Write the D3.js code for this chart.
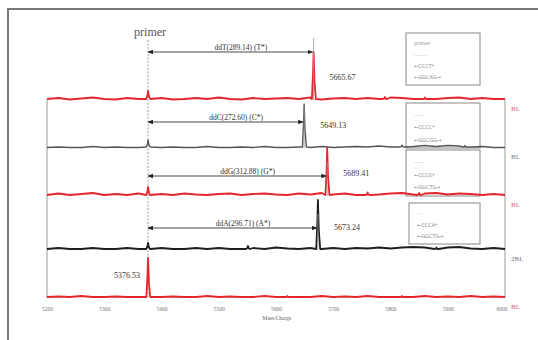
<!DOCTYPE html>
<html>
<head>
<meta charset="utf-8">
<script src="https://cdn.jsdelivr.net/npm/d3@7"></script>
<style>
  html, body { margin: 0; padding: 0; background: #fff; }
  svg { display: block; }
</style>
</head>
<body>
<svg id="chart" width="538" height="340"></svg>
<script>
// Mass axis ticks (Da)
const massTicks = [5200, 5300, 5400, 5500, 5600, 5700, 5800, 5900, 6000];

// Primer and single-base extension products
const primerMass = 5376.53;
const productMass = [5665.67, 5649.13, 5689.41, 5673.24];
const productHeight = [96, 88, 96, 100];
const primerHeight = [18, 16, 18, 14, 80];
const peakLabels = ["5665.67", "5649.13", "5689.41", "5673.24", "5376.53"];
const shiftLabels = ["ddT(289.14)  (T*)", "ddC(272.60) (C*)", "ddG(312.88)   (G*)", "ddA(296.71) (A*)"];
const sideLabels = ["BL", "BL", "BL", "2BL", "BL"];

// Minor side peaks [mass, intensity] per spectrum
const minorPeaks = [
  [[5790, 6], [5860, 5]],
  [[5820, 6], [5930, 5]],
  [[5760, 7], [5850, 6]],
  [[5551, 8], [5880, 5]],
  [[5620, 4], [5820, 4]]
];

// Baseline noise sampled every 20 Da from 5200 to 6000
const noise = [
  [2,4,1,3,5,2,1,4,2,3,4,1,2,4,2,5,2,1,4,2,3,4,2,5,1,3,4,2,4,2,5,4,2,4,2,4,5,2,4,2,2],
  [1,2,1,1,3,1,2,1,1,3,1,2,1,1,3,1,1,2,1,3,1,1,2,1,3,1,2,3,2,4,2,5,3,5,3,5,4,2,3,1,1],
  [2,5,2,4,6,2,4,2,5,2,4,2,5,3,2,4,5,2,4,5,3,2,5,3,6,3,5,2,6,3,5,6,3,5,6,3,5,4,2,4,2],
  [2,4,2,2,4,2,2,4,2,2,4,2,2,4,2,4,2,2,4,2,5,3,2,4,2,4,2,4,3,5,3,5,6,5,3,5,6,3,2,4,2],
  [2,3,2,4,2,2,3,2,2,4,2,3,2,2,4,2,3,2,2,4,2,3,2,2,4,2,3,2,4,2,2,3,2,4,2,3,2,4,2,3,2]
];
const noiseStep = 20;

// Legend box text lines per spectrum
const legendText = [
  ["primer", "\u00b7\u00b7\u00b7\u00b7\u00b7\u00b7\u00b7\u00b7", "\u2190CCCT*", "\u2190GGCAG\u2192"],
  ["\u00b7\u00b7\u00b7\u00b7\u00b7\u00b7\u00b7", "\u2190CCCC*", "\u2190GGCGG\u2192"],
  ["\u00b7\u00b7\u00b7\u00b7\u00b7\u00b7\u00b7", "\u2190CCCG*", "\u2190GGCTG\u2192"],
  ["\u00b7\u00b7\u00b7", "\u2190CCCA*", "\u2190GGCTG\u2192"]
];

const colors = ["#e3262b", "#555555", "#e3262b", "#1e1e1e", "#e3262b"];

// ---- layout ----
const plotLeft = 47, plotRight = 505;
const baselines = [100, 148, 196, 250, 298];
const arrowY = [52, 122, 176, 228];
const legendBoxes = [[406, 33, 74, 52], [406, 103, 74, 45], [406, 150, 74, 46], [409, 203, 71, 41]];
const serif = "'Liberation Serif', 'DejaVu Serif', serif";
const smallFont = "'DejaVu Sans', sans-serif";

const svg = d3.select("#chart");

// outer frame
svg.append("rect")
  .attr("x", 8).attr("y", 9).attr("width", 540).attr("height", 340)
  .attr("fill", "none").attr("stroke", "#777").attr("stroke-width", 2);

const x = d3.scaleLinear().domain([massTicks[0], massTicks[massTicks.length - 1]]).range([plotLeft, plotRight]);
const yFor = i => d3.scaleLinear().domain([0, 100]).range([baselines[i], baselines[i] - 50]);

// plot side borders
[plotLeft, plotRight].forEach(px => {
  svg.append("line")
    .attr("x1", px).attr("x2", px)
    .attr("y1", baselines[0]).attr("y2", baselines[4])
    .attr("stroke", "#999").attr("stroke-width", 1);
});

// dotted guide at the primer mass
svg.append("line")
  .attr("x1", x(primerMass)).attr("x2", x(primerMass))
  .attr("y1", 40).attr("y2", baselines[4])
  .attr("stroke", "#888").attr("stroke-width", 0.8).attr("stroke-dasharray", "2,1.5");

// legend boxes
legendBoxes.forEach((b, i) => {
  svg.append("rect")
    .attr("x", b[0]).attr("y", b[1]).attr("width", b[2]).attr("height", b[3])
    .attr("fill", "#fff").attr("stroke", "#888").attr("stroke-width", 1);
  const lines = legendText[i];
  const step = b[3] / (lines.length + 0.6);
  lines.forEach((t, j) => {
    svg.append("text")
      .attr("x", b[0] + 8).attr("y", b[1] + step * (j + 1) + 1)
      .attr("font-family", smallFont).attr("font-size", 5)
      .attr("fill", "#888").text(t);
  });
});

// build spectrum point lists from baseline noise + peaks
function spectrumPoints(i) {
  const pts = noise[i].map((v, k) => [massTicks[0] + k * noiseStep, v]);
  const peaks = [[primerMass, primerHeight[i]]];
  if (i < productMass.length) peaks.push([productMass[i], productHeight[i]]);
  minorPeaks[i].forEach(p => peaks.push(p));
  peaks.forEach(([m, h]) => {
    pts.push([m - 3, 2], [m - 1, h * 0.55], [m, h], [m + 1.5, h * 0.4], [m + 4, 2]);
  });
  pts.sort((a, b) => a[0] - b[0]);
  return pts;
}

// spectra
baselines.forEach((_, i) => {
  const y = yFor(i);
  const line = d3.line().x(d => x(d[0])).y(d => y(d[1]));
  svg.append("path")
    .datum(spectrumPoints(i))
    .attr("d", line)
    .attr("fill", "none")
    .attr("stroke", colors[i])
    .attr("stroke-width", i === 1 ? 1.4 : 1.8)
    .attr("stroke-linejoin", "round");

  svg.append("text")
    .attr("x", plotRight + 6).attr("y", baselines[i] + 11)
    .attr("font-family", serif).attr("font-size", 7)
    .attr("fill", i % 2 === 0 ? "#e06070" : "#777")
    .text(sideLabels[i]);
});

// arrowheads
const defs = svg.append("defs");
["start", "end"].forEach(kind => {
  defs.append("marker")
    .attr("id", "arrow-" + kind)
    .attr("viewBox", "0 0 10 10").attr("refX", kind === "end" ? 9 : 1).attr("refY", 5)
    .attr("markerWidth", 6).attr("markerHeight", 6).attr("orient", "auto")
    .append("path")
    .attr("d", kind === "end" ? "M0,1L10,5L0,9Z" : "M10,1L0,5L10,9Z")
    .attr("fill", "#222");
});

// mass-shift arrows with guide lines at the product masses
productMass.forEach((m, i) => {
  svg.append("line")
    .attr("x1", x(m)).attr("x2", x(m))
    .attr("y1", arrowY[i] - 14).attr("y2", baselines[i])
    .attr("stroke", "#999").attr("stroke-width", 0.8);
  svg.append("line")
    .attr("x1", x(primerMass)).attr("x2", x(m) - 1)
    .attr("y1", arrowY[i]).attr("y2", arrowY[i])
    .attr("stroke", "#333").attr("stroke-width", 0.9)
    .attr("marker-start", "url(#arrow-start)")
    .attr("marker-end", "url(#arrow-end)");
  svg.append("text")
    .attr("x", (x(primerMass) + x(m)) / 2 + 10).attr("y", arrowY[i] - 2)
    .attr("text-anchor", "middle")
    .attr("font-family", serif).attr("font-size", 7.5)
    .attr("fill", "#333").text(shiftLabels[i]);
});

// peak mass labels
peakLabels.forEach((t, i) => {
  const isPrimer = i === productMass.length;
  const m = isPrimer ? primerMass : productMass[i];
  svg.append("text")
    .attr("x", isPrimer ? x(m) - 8 : x(m) + 16)
    .attr("y", baselines[i] - 20)
    .attr("text-anchor", isPrimer ? "end" : "start")
    .attr("font-family", serif).attr("font-size", 8)
    .attr("fill", "#333").text(t);
});

// "primer" heading
svg.append("text")
  .attr("x", x(primerMass) + 2).attr("y", 36)
  .attr("text-anchor", "middle")
  .attr("font-family", serif).attr("font-size", 12)
  .attr("fill", "#555").text("primer");

// mass axis
const axis = d3.axisBottom(x).tickValues(massTicks).tickFormat(d3.format("d")).tickSize(0);
const gAxis = svg.append("g").attr("transform", `translate(0,${baselines[4] + 6})`).call(axis);
gAxis.select(".domain").remove();
gAxis.selectAll("text")
  .attr("font-family", serif).attr("font-size", 5.5).attr("fill", "#777");
// keep the last tick label inside the plot edge
gAxis.selectAll(".tick:last-of-type text").attr("text-anchor", "end").attr("dx", 2);

svg.append("text")
  .attr("x", 277).attr("y", 320)
  .attr("text-anchor", "middle")
  .attr("font-family", serif).attr("font-size", 5.5)
  .attr("fill", "#666").text("Mass/Charge");
</script>
</body>
</html>
